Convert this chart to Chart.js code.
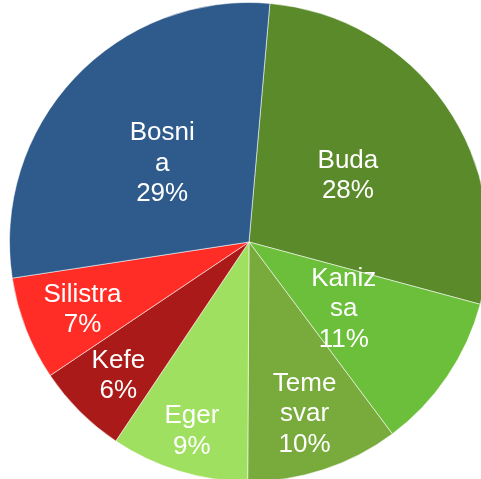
<!DOCTYPE html>
<html>
<head>
<meta charset="utf-8">
<script src="https://cdn.jsdelivr.net/npm/chart.js@4"></script>
<style>
  html, body { margin: 0; padding: 0; background: #ffffff; overflow: hidden; width: 481px; height: 479px; }
  #wrap { position: absolute; left: 9px; top: 2px; width: 480px; height: 480px; }
</style>
</head>
<body>
<div id="wrap"><canvas id="c"></canvas></div>
<script>
// Data (clockwise from the top), shares in percent
const categories = ["Buda", "Kanizsa", "Temesvar", "Eger", "Kefe", "Silistra", "Bosnia"];
const labelLines = [["Buda"], ["Kaniz", "sa"], ["Teme", "svar"], ["Eger"], ["Kefe"], ["Silistra"], ["Bosni", "a"]];
const shares = [27.8, 10.6, 10.3, 9.3, 6.2, 7.0, 28.8];
const sliceColors = ["#5A8A2A", "#6CBF3A", "#78AA3C", "#A0E060", "#AA1A18", "#FF2D25", "#2E5A8C"];

const labelPlugin = {
  id: 'sliceLabels',
  afterDatasetsDraw(chart, args, opts) {
    const ctx = chart.ctx;
    const meta = chart.getDatasetMeta(0);
    const data = chart.data.datasets[0].data;
    const total = data.reduce((a, b) => a + b, 0);
    ctx.save();
    ctx.fillStyle = '#ffffff';
    ctx.font = opts.font;
    ctx.textAlign = 'center';
    ctx.textBaseline = 'middle';
    meta.data.forEach((arc, i) => {
      const p = arc.getProps(['x', 'y', 'startAngle', 'endAngle', 'outerRadius'], true);
      const mid = (p.startAngle + p.endAngle) / 2;
      const r = p.outerRadius * opts.radius[i];
      const cx = p.x + Math.cos(mid) * r;
      const cy = p.y + Math.sin(mid) * r + opts.yOffset;
      const lines = labelLines[i].concat([Math.round(data[i] / total * 100) + '%']);
      const lh = opts.lineHeight;
      const top = cy - (lines.length - 1) * lh / 2;
      lines.forEach((t, k) => ctx.fillText(t, cx, top + k * lh));
    });
    ctx.restore();
  }
};

new Chart(document.getElementById('c'), {
  type: 'pie',
  data: {
    labels: categories,
    datasets: [{
      data: shares,
      backgroundColor: sliceColors,
      borderColor: 'rgba(255,255,255,0.55)',
      borderWidth: 1
    }]
  },
  options: {
    responsive: true,
    maintainAspectRatio: false,
    animation: false,
    rotation: 5,
    layout: { padding: 0 },
    plugins: {
      legend: { display: false },
      tooltip: { enabled: false },
      sliceLabels: {
        font: '26px "Liberation Sans", Arial, sans-serif',
        lineHeight: 30.5,
        yOffset: 3,
        radius: [0.504, 0.478, 0.743, 0.813, 0.772, 0.746, 0.497]
      }
    }
  },
  plugins: [labelPlugin]
});
</script>
</body>
</html>
